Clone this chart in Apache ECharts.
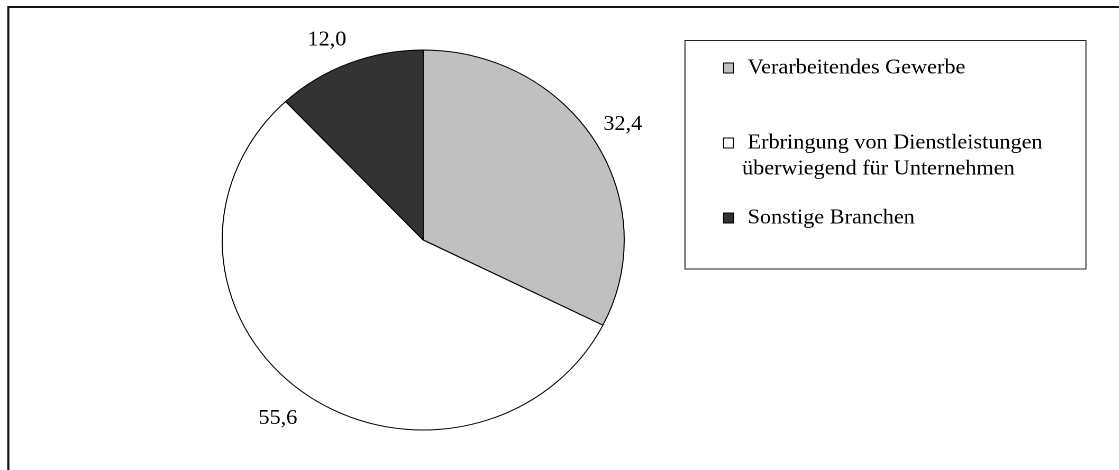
<!DOCTYPE html>
<html>
<head>
<meta charset="utf-8">
<script src="https://cdn.jsdelivr.net/npm/echarts@6/dist/echarts.min.js"></script>
<style>
  html, body { margin: 0; padding: 0; background: #fff; overflow: hidden; }
  #main { width: 1058px; height: 470px; transform: scaleX(1.058); transform-origin: 0 0; }
</style>
</head>
<body>
<div id="main"></div>
<script>
var categories = [
  'Verarbeitendes Gewerbe',
  'Erbringung von Dienstleistungen\nüberwiegend für Unternehmen',
  'Sonstige Branchen'
];
var values = [32.4, 55.6, 12.0];
var colors = ['#c0c0c0', '#ffffff', '#333333'];

var chartDom = document.getElementById('main');
var myChart = echarts.init(chartDom, null, { devicePixelRatio: 2 });
var option;

var font = 'Liberation Serif';

// legend text: leading space on the first line, blank lines on top so the
// marker sits next to the first line
function legendText(name) {
  var lines = name.split('\n');
  var pad = '';
  for (var i = 1; i < lines.length; i++) pad += '\n';
  lines[0] = ' ' + lines[0];
  return pad + lines.join('\n');
}

var legendTops = [55, 104, 205];
// small nudges of the value labels, like in the original
var labelNudge = [[-8.5, -5], [6.6, 10], [4.7, -5]];

option = {
  animation: false,
  graphic: [
    {
      type: 'rect',
      shape: { x: 7.85, y: 7, width: 1200, height: 600 },
      style: { fill: 'none', stroke: '#111', lineWidth: 2 }
    },
    {
      type: 'rect',
      shape: { x: 647.4, y: 40.5, width: 379, height: 228.5 },
      style: { fill: 'none', stroke: '#222', lineWidth: 1 }
    }
  ],
  legend: categories.map(function (name, i) {
    return {
      data: [name],
      left: 683.4,
      top: legendTops[i],
      padding: 0,
      icon: 'rect',
      itemWidth: 9.45,
      itemHeight: 10,
      selectedMode: false,
      itemStyle: { borderColor: '#000', borderWidth: 1 },
      formatter: legendText,
      textStyle: {
        fontFamily: font,
        fontSize: 21,
        color: '#000',
        lineHeight: 26,
        padding: [0, 0, 0, 3]
      }
    };
  }),
  series: [
    {
      type: 'pie',
      center: [400, 240],
      radius: 190,
      startAngle: 90,
      clockwise: true,
      silent: true,
      avoidLabelOverlap: false,
      itemStyle: { borderColor: '#000', borderWidth: 1 },
      label: {
        show: true,
        position: 'outside',
        distanceToLabelLine: 0,
        fontFamily: font,
        fontSize: 21,
        color: '#000',
        formatter: function (p) {
          return values[p.dataIndex].toFixed(1).replace('.', ',');
        }
      },
      labelLine: { show: false, length: 20, length2: 0 },
      labelLayout: function (p) {
        return { dx: labelNudge[p.dataIndex][0], dy: labelNudge[p.dataIndex][1] };
      },
      emphasis: { disabled: true },
      data: categories.map(function (name, i) {
        return { name: name, value: values[i], itemStyle: { color: colors[i] } };
      })
    }
  ]
};

option && myChart.setOption(option);
</script>
</body>
</html>
